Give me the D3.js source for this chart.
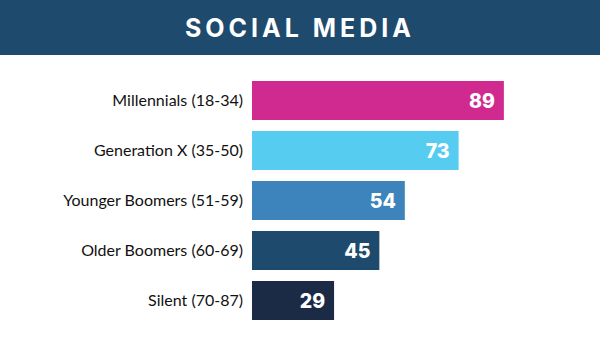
<!DOCTYPE html>
<html><head><meta charset="utf-8">
<script src="https://cdn.jsdelivr.net/npm/d3@7"></script>
<style>body{margin:0;background:#fff}svg{display:block}</style>
</head><body>
<svg id="c" width="600" height="352"></svg>
<script>
const title = "SOCIAL MEDIA";
const categories = ["Millennials (18-34)","Generation X (35-50)","Younger Boomers (51-59)","Older Boomers (60-69)","Silent (70-87)"];
const values = [89,73,54,45,29];
const colors = ["#D02A91","#57CCF1","#3D84BD","#1E4A6D","#1B2A45"];

const svg = d3.select("#c");
svg.append("rect").attr("x",0).attr("y",0).attr("width",600).attr("height",55).attr("fill","#1E4A6E");
svg.append("text").attr("x",299).attr("y",37).attr("text-anchor","middle")
  .attr("fill","#fff").attr("font-family","Inter, sans-serif").attr("font-weight",700)
  .attr("font-size",25).attr("letter-spacing",2).attr("textLength",228).attr("lengthAdjust","spacing").text(title);

const x = d3.scaleLinear().domain([0,100]).range([252,535]);
const y = d3.scaleBand().domain(categories).range([81,320]).paddingInner(0.22).paddingOuter(0);

const g = svg.append("g");
categories.forEach((c,i)=>{
  g.append("rect").attr("x",x(0)).attr("y",y(c)).attr("width",x(values[i])-x(0)).attr("height",y.bandwidth()).attr("fill",colors[i]);
  g.append("text").attr("x",x(values[i])-9).attr("y",y(c)+y.bandwidth()/2+7).attr("text-anchor","end")
    .attr("fill","#fff").attr("font-family","Inter, sans-serif").attr("font-weight",800).attr("font-size",19.5).text(values[i]);
  g.append("text").attr("x",243).attr("y",y(c)+y.bandwidth()/2+5.5).attr("text-anchor","end")
    .attr("fill","#111").attr("font-family","Lato, sans-serif").attr("font-size",16).text(c);
});
</script>
</body></html>
